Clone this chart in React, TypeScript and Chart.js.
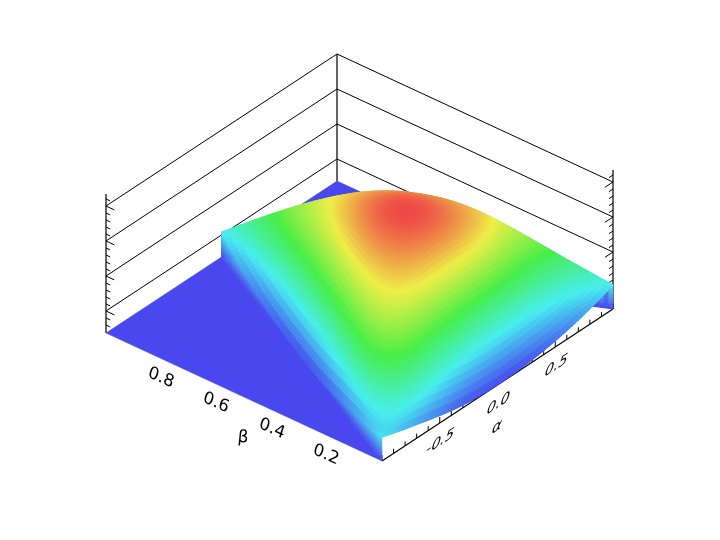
import React, { useEffect, useRef } from "react";
import { Chart, registerables } from "chart.js";

Chart.register(...registerables);

// Surface heights, one row per beta.
// Within a row alpha runs from beta-1 to 1-beta in steps of 0.2.
const betaValues = [0, 0.1, 0.2, 0.3, 0.4, 0.5, 0.6, 0.7, 0.8, 0.9, 1];
const zBeta00 = [0.24, 0.154, 0.086, 0.038, 0.01, 0, 0.01, 0.038, 0.086, 0.154, 0.24];
const zBeta01 = [0.154, 0.38, 0.41, 0.365, 0.33, 0.31, 0.303, 0.313, 0.334, 0.41];
const zBeta02 = [0.086, 0.5, 0.62, 0.655, 0.648, 0.638, 0.625, 0.595, 0.58];
const zBeta03 = [0.038, 0.49, 0.72, 0.815, 0.87, 0.885, 0.825, 0.74];
const zBeta04 = [0.01, 0.457, 0.735, 0.925, 1.0, 0.95, 0.86];
const zBeta05 = [0, 0.441, 0.73, 0.93, 0.985, 0.885];
const zBeta06 = [0.01, 0.432, 0.7, 0.86, 0.865];
const zBeta07 = [0.038, 0.426, 0.669, 0.77];
const zBeta08 = [0.086, 0.448, 0.62];
const zBeta09 = [0.154, 0.44];
const zBeta10 = [0.25];
const surfaceRows = [zBeta00, zBeta01, zBeta02, zBeta03, zBeta04, zBeta05, zBeta06, zBeta07, zBeta08, zBeta09, zBeta10];

const alphaTicks = [-1, -0.9, -0.8, -0.7, -0.6, -0.5, -0.4, -0.3, -0.2, -0.1, 0, 0.1, 0.2, 0.3, 0.4, 0.5, 0.6, 0.7, 0.8, 0.9, 1];
const alphaTickLabels = ["-0.5", "0.0", "0.5"];
const betaTickLabels = ["0.8", "0.6", "0.4", "0.2"];
const zGridLevels = [0.22, 0.57, 0.92, 1.27];
const zMinorTicks = [0.08, 0.15, 0.29, 0.36, 0.43, 0.5, 0.64, 0.71, 0.78, 0.85, 0.99, 1.06, 1.13, 1.2, 1.34];
const zAxisTop = 1.39;

// View of the 3D box on the page.
const VIEW = { ox: 382, oy: 461, ax: 231, ay: -152, bx: -276, by: -128, zy: -100 };
const project = (alpha: number, beta: number, z: number) => {
  const a = (alpha + 1) / 2;
  return { x: VIEW.ox + VIEW.ax * a + VIEW.bx * beta, y: VIEW.oy + VIEW.ay * a + VIEW.by * beta + VIEW.zy * z };
};

const STOPS = [
  [72, 72, 238],
  [72, 238, 238],
  [72, 238, 72],
  [238, 238, 72],
  [238, 72, 72],
];
const colorOf = (z: number) => {
  const v = Math.max(0, Math.min(0.9999, z)) * 4;
  const i = Math.floor(v);
  const f = v - i;
  const c = STOPS[i].map((s, k) => Math.round(s + (STOPS[i + 1][k] - s) * f));
  return `rgb(${c[0]},${c[1]},${c[2]})`;
};

const BREAK = { x: NaN, y: NaN };
const line = (pts: number[][]) => [...pts.map((p) => project(p[0], p[1], p[2])), BREAK];

const gridPoints = zGridLevels.flatMap((z) => line([[-1, 1, z], [1, 1, z], [1, 0, z]]));
const axisPoints = [
  ...line([[-1, 1, 0], [-1, 1, zAxisTop]]),
  ...line([[1, 0, 0], [1, 0, zAxisTop]]),
  ...line([[1, 1, 0], [1, 1, zGridLevels[3]]]),
  ...line([[-1, 0, 0], [1, 0, 0]]),
];
const zTickPoints = [
  ...zGridLevels.flatMap((z) => [...line([[-1, 1, z], [-1, 0.97, z]]), ...line([[1, 0, z], [0.93, 0, z]])]),
  ...zMinorTicks.flatMap((z) => [...line([[-1, 1, z], [-1, 0.985, z]]), ...line([[1, 0, z], [0.965, 0, z]])]),
];
const alphaTickPoints = alphaTicks.flatMap((al, i) => line([[al, 0, 0], [al, 0, i % 5 === 0 ? 0.06 : 0.045]]));

const lineSet = (label: string, data: object[], width: number) => ({
  label,
  data,
  showLine: true,
  spanGaps: false,
  pointRadius: 0,
  borderColor: "#000",
  borderWidth: width,
});

// Smooth reading of the table between its nodes: local quadratic fit.
const samples = surfaceRows.flatMap((row, j) => row.map((z, i) => ({ u: i, v: j, z })));
const SIGMA = 0.8;
const heightAt = (alpha: number, beta: number) => {
  const v = beta * 10;
  const u = ((1 - beta + alpha) / 2) * 10;
  const M = Array.from({ length: 6 }, () => new Array(7).fill(0));
  for (const s of samples) {
    const du = s.u - u;
    const dv = s.v - v;
    const d2 = du * du + du * dv + dv * dv;
    if (d2 > 12) continue;
    const w = Math.exp(-d2 / (2 * SIGMA * SIGMA));
    const b = [1, du, dv, du * du, du * dv, dv * dv];
    for (let r = 0; r < 6; r++) {
      for (let c = 0; c < 6; c++) M[r][c] += w * b[r] * b[c];
      M[r][6] += w * b[r] * s.z;
    }
  }
  for (let r = 0; r < 6; r++) M[r][r] += 1e-7;
  for (let c = 0; c < 6; c++) {
    let best = c;
    for (let r = c + 1; r < 6; r++) if (Math.abs(M[r][c]) > Math.abs(M[best][c])) best = r;
    [M[c], M[best]] = [M[best], M[c]];
    for (let r = c + 1; r < 6; r++) {
      const f = M[r][c] / M[c][c];
      for (let k = c; k < 7; k++) M[r][k] -= f * M[c][k];
    }
  }
  const x = new Array(6).fill(0);
  for (let r = 5; r >= 0; r--) {
    let t = M[r][6];
    for (let c = r + 1; c < 6; c++) t -= M[r][c] * x[c];
    x[r] = t / M[r][r];
  }
  return Math.max(0, x[0]);
};

type P = { x: number; y: number };

const surfacePlugin = {
  id: "surface3d",
  afterDatasetsDraw(chart: any) {
    const { ctx, scales } = chart;
    const toPx = (alpha: number, beta: number, z: number): P => {
      const p = project(alpha, beta, z);
      return { x: scales.x.getPixelForValue(p.x), y: scales.y.getPixelForValue(p.y) };
    };
    const poly = (pts: P[], color: string) => {
      ctx.beginPath();
      pts.forEach((p, i) => (i ? ctx.lineTo(p.x, p.y) : ctx.moveTo(p.x, p.y)));
      ctx.closePath();
      ctx.fillStyle = color;
      ctx.strokeStyle = color;
      ctx.lineWidth = 0.5;
      ctx.fill();
      ctx.stroke();
    };
    // floor outside the triangular domain
    poly([toPx(-1, 1, 0), toPx(-1, 0, 0), toPx(0, 1, 0)], colorOf(0));
    poly([toPx(0, 1, 0), toPx(1, 0, 0), toPx(1, 1, 0)], colorOf(0));

    const N = 80;
    // walls that drop from the two slanted edges to the floor
    const wall = (sign: number, striped: boolean) => {
      const SUB_Z = 10;
      for (let s = 0; s < N; s++) {
        const be0 = s / N;
        const be1 = (s + 1) / N;
        const al0 = sign * (1 - be0);
        const al1 = sign * (1 - be1);
        const z0 = heightAt(al0, be0);
        const z1 = heightAt(al1, be1);
        const dim = striped && s % 2 === 1 ? 0.45 : 1;
        for (let h = 0; h < SUB_Z; h++) {
          const f0 = h / SUB_Z;
          const f1 = (h + 1) / SUB_Z;
          poly(
            [toPx(al0, be0, z0 * f0), toPx(al1, be1, z1 * f0), toPx(al1, be1, z1 * f1), toPx(al0, be0, z0 * f1)],
            colorOf(((z0 + z1) / 2) * ((f0 + f1) / 2) * dim)
          );
        }
      }
    };
    wall(1, true);
    wall(-1, false);

    // surface, far to near
    const nodes: { alpha: number; beta: number; z: number }[][] = [];
    for (let j = 0; j <= N; j++) {
      const beta = j / N;
      const row = [];
      for (let i = 0; i <= N - j; i++) {
        const alpha = beta - 1 + (2 * i) / N;
        row.push({ alpha, beta, z: heightAt(alpha, beta) });
      }
      nodes.push(row);
    }
    const tris: { pts: P[]; z: number; depth: number }[] = [];
    const push = (a: any, b: any, c: any) => {
      tris.push({
        pts: [a, b, c].map((n) => toPx(n.alpha, n.beta, n.z)),
        z: (a.z + b.z + c.z) / 3,
        depth: project((a.alpha + b.alpha + c.alpha) / 3, (a.beta + b.beta + c.beta) / 3, 0).y,
      });
    };
    for (let j = 0; j < N; j++) {
      for (let i = 0; i < N - j; i++) {
        push(nodes[j][i], nodes[j][i + 1], nodes[j + 1][i]);
        if (i < N - j - 1) push(nodes[j][i + 1], nodes[j + 1][i + 1], nodes[j + 1][i]);
      }
    }
    tris.sort((a, b) => a.depth - b.depth);
    // two passes so that no wall shows through the hairline joins
    tris.forEach((t) => poly(t.pts, colorOf(t.z)));
    tris.forEach((t) => poly(t.pts, colorOf(t.z)));

    // labels
    const label = (text: string, p: P, m: number[], size: number) => {
      ctx.save();
      ctx.transform(m[0], m[1], m[2], m[3], p.x, p.y);
      ctx.font = `${size}px "DejaVu Sans"`;
      ctx.fillStyle = "#000";
      ctx.textAlign = "center";
      ctx.textBaseline = "middle";
      ctx.fillText(text, 0, 0);
      ctx.restore();
    };
    const alphaShear = [0.84, -0.54, -0.3, 0.95];
    const betaShear = [0.91, 0.42, -0.3, 0.95];
    const at = (v: number, w: number): P => ({ x: scales.x.getPixelForValue(v), y: scales.y.getPixelForValue(w) });
    const alphaLabelAt = [at(440, 442), at(498, 404), at(556, 366)];
    alphaTickLabels.forEach((s, i) => label(s, alphaLabelAt[i], alphaShear, 17));
    const betaLabelAt = [at(161, 378), at(216, 403), at(272, 429), at(326, 455)];
    betaTickLabels.forEach((s, i) => label(s, betaLabelAt[i], betaShear, 17));
    label("α", at(497, 427), alphaShear, 18);
    label("β", at(243, 438), [0.99, 0.1, -0.1, 0.99], 17);
  },
};

export default function App() {
  const ref = useRef<HTMLCanvasElement | null>(null);
  useEffect(() => {
    document.body.style.margin = "0";
    const chart = new Chart(ref.current as HTMLCanvasElement, {
      type: "scatter",
      data: {
        datasets: [
          lineSet("z grid", gridPoints, 1),
          lineSet("box axes", axisPoints, 1.2),
          lineSet("z ticks", zTickPoints, 1),
          lineSet("alpha ticks", alphaTickPoints, 1),
        ],
      },
      options: {
        animation: false,
        responsive: false,
        layout: { padding: 0 },
        plugins: { legend: { display: false }, tooltip: { enabled: false } },
        scales: {
          x: { type: "linear", min: 0, max: 720, display: false },
          y: { type: "linear", min: 0, max: 540, reverse: true, display: false },
        },
      },
      plugins: [surfacePlugin],
    } as any);
    return () => chart.destroy();
  }, []);
  return <canvas ref={ref} width={720} height={540} style={{ display: "block" }} />;
}
